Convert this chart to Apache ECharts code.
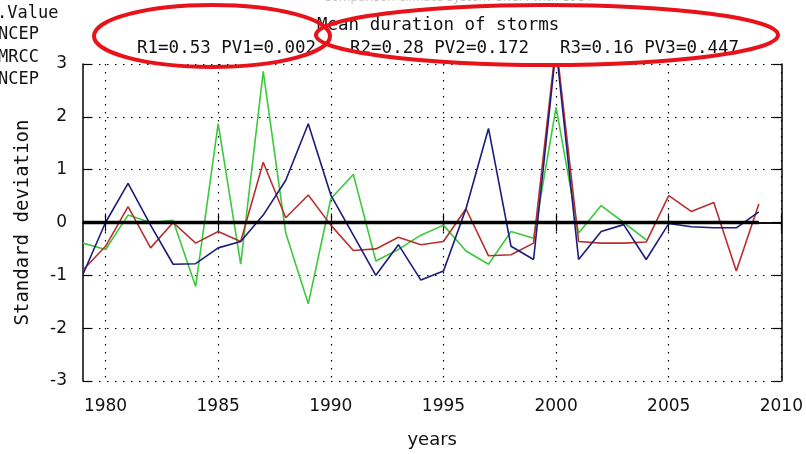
<!DOCTYPE html>
<html>
<head>
<meta charset="utf-8">
<script src="https://cdn.jsdelivr.net/npm/echarts@6/dist/echarts.min.js"></script>
<style>
  html, body { margin: 0; padding: 0; background: #fff; }
  #container { width: 806px; height: 454px; }
</style>
</head>
<body>
<div id="container"></div>
<script>
var dom = document.getElementById('container');
var myChart = echarts.init(dom);

// years 1979 - 2009
let years = [1979, 1980, 1981, 1982, 1983, 1984, 1985, 1986, 1987, 1988,
    1989, 1990, 1991, 1992, 1993, 1994, 1995, 1996, 1997, 1998,
    1999, 2000, 2001, 2002, 2003, 2004, 2005, 2006, 2007, 2008, 2009]
let greenVals = [-0.39, -0.51, 0.14, 0.0, 0.04, -1.21, 1.87, -0.79, 2.86, -0.2,
    -1.54, 0.45, 0.91, -0.73, -0.51, -0.24, -0.05, -0.54, -0.79, -0.17,
    -0.3, 2.18, -0.2, 0.32, 0.0, -0.33, null, null, null, null, null]
let redVals = [-0.9, -0.45, 0.3, -0.48, 0.0, -0.39, -0.17, -0.36, 1.14, 0.09,
    0.52, -0.05, -0.53, -0.5, -0.28, -0.42, -0.36, 0.26, -0.63, -0.61,
    -0.39, 3.4, -0.36, -0.39, -0.39, -0.37, 0.51, 0.21, 0.38, -0.92, 0.35]
let blueVals = [-0.98, 0.0, 0.74, -0.05, -0.79, -0.78, -0.48, -0.36, 0.14, 0.8,
    1.87, 0.52, -0.24, -1.0, -0.42, -1.09, -0.92, 0.26, 1.78, -0.45,
    -0.7, 3.3, -0.7, -0.17, -0.04, -0.7, -0.02, -0.08, -0.1, -0.1, 0.2]
let zeroLine = [[1979, 0], [2009, 0]]
let xTicks = [1980, 1985, 1990, 1995, 2000, 2005, 2010]

let titleText = 'Mean duration of storms'
let statTexts = ['R1=0.53 PV1=0.002', 'R2=0.28 PV2=0.172', 'R3=0.16 PV3=0.447']
let legendTexts = ['.Value', 'NCEP', 'MRCC', 'NCEP']

function pairs(vals) {
    return years.map(function (y, i) { return [y, vals[i]]; });
}

let mono = '"DejaVu Sans Mono", monospace';
let sans = '"DejaVu Sans", sans-serif';

let tickCommon = {
    show: true,
    inside: true,
    length: 9,
    lineStyle: { color: '#000', width: 1.2 }
};

option = {
    backgroundColor: '#fff',
    animation: false,
    title: [
        { text: titleText, left: 312, top: 11, textStyle: { fontFamily: mono, fontSize: 17.5, fontWeight: 'normal', color: '#111' } },
        { text: statTexts[0], left: 132, top: 34, textStyle: { fontFamily: mono, fontSize: 17.5, fontWeight: 'normal', color: '#111' } },
        { text: statTexts[1], left: 345, top: 34, textStyle: { fontFamily: mono, fontSize: 17.5, fontWeight: 'normal', color: '#111' } },
        { text: statTexts[2], left: 555, top: 34, textStyle: { fontFamily: mono, fontSize: 17.5, fontWeight: 'normal', color: '#111' } }
    ],
    grid: {
        left: 83,
        right: 16,
        top: 64,
        bottom: 66
    },
    xAxis: [{
        type: 'value',
        min: 1979,
        max: 2010,
        name: 'years',
        nameLocation: 'middle',
        nameGap: 50,
        nameTextStyle: { fontFamily: sans, fontSize: 18, color: '#111' },
        axisLine: { show: true, lineStyle: { color: '#000', width: 1.5 } },
        axisTick: Object.assign({ customValues: xTicks }, tickCommon),
        axisLabel: {
            customValues: xTicks,
            margin: 17,
            fontFamily: sans,
            fontSize: 17,
            color: '#111',
            formatter: function (v) { return String(v); }
        },
        splitLine: {
            show: true,
            lineStyle: { color: '#000', width: 1.2, type: [1.5, 6.5] }
        }
    }, {
        type: 'value',
        position: 'top',
        min: 1979,
        max: 2010,
        axisLine: { show: true, lineStyle: { color: '#000', width: 1.5 } },
        axisTick: Object.assign({ customValues: xTicks }, tickCommon),
        axisLabel: { show: false },
        splitLine: { show: false }
    }],
    yAxis: [{
        type: 'value',
        min: -3,
        max: 3,
        interval: 1,
        name: 'Standard deviation',
        nameLocation: 'middle',
        nameGap: 50,
        nameTextStyle: { fontFamily: mono, fontSize: 19, color: '#111' },
        axisLine: { show: true, lineStyle: { color: '#000', width: 1.5 } },
        axisTick: tickCommon,
        axisLabel: { margin: 16, fontFamily: sans, fontSize: 17, color: '#111' },
        splitLine: {
            show: true,
            lineStyle: { color: '#000', width: 1.2, type: [1.5, 6.5] }
        }
    }, {
        type: 'value',
        position: 'right',
        min: -3,
        max: 3,
        interval: 1,
        axisLine: { show: true, lineStyle: { color: '#000', width: 1.5 } },
        axisTick: tickCommon,
        axisLabel: { show: false },
        splitLine: { show: false }
    }],
    graphic: [
        { type: 'text', left: 323, top: -8, z: 1, style: { text: 'Comparison climate system CRCM with 1984', fill: '#c4c4c4', font: '12px ' + sans } },
        { type: 'text', left: -3, top: 5, style: { text: legendTexts[0], fill: '#111', font: '17px ' + mono } },
        { type: 'text', left: -2, top: 26, style: { text: legendTexts[1], fill: '#111', font: '17px ' + mono } },
        { type: 'text', left: -2, top: 49, style: { text: legendTexts[2], fill: '#111', font: '17px ' + mono } },
        { type: 'text', left: -2, top: 71, style: { text: legendTexts[3], fill: '#111', font: '17px ' + mono } },
        {
            type: 'ellipse', z: 100,
            shape: { cx: 212, cy: 36, rx: 118, ry: 31 },
            style: { fill: 'none', stroke: '#e8121a', lineWidth: 4 }
        },
        {
            type: 'ellipse', z: 100,
            shape: { cx: 547, cy: 35, rx: 231, ry: 30 },
            style: { fill: 'none', stroke: '#e8121a', lineWidth: 4 }
        }
    ],
    series: [{
        name: 'green',
        type: 'line',
        symbol: 'none',
        lineStyle: { color: '#3cc93c', width: 1.6 },
        data: pairs(greenVals)
    }, {
        name: 'red',
        type: 'line',
        symbol: 'none',
        lineStyle: { color: '#b8302e', width: 1.6 },
        data: pairs(redVals)
    }, {
        name: 'blue',
        type: 'line',
        symbol: 'none',
        lineStyle: { color: '#1c1c7a', width: 1.6 },
        data: pairs(blueVals)
    }, {
        name: 'zero',
        type: 'line',
        symbol: 'none',
        lineStyle: { color: '#000', width: 3.5 },
        data: zeroLine
    }]
};
myChart.setOption(option);

window.addEventListener('resize', function () {
    myChart.resize();
});
</script>
</body>
</html>
